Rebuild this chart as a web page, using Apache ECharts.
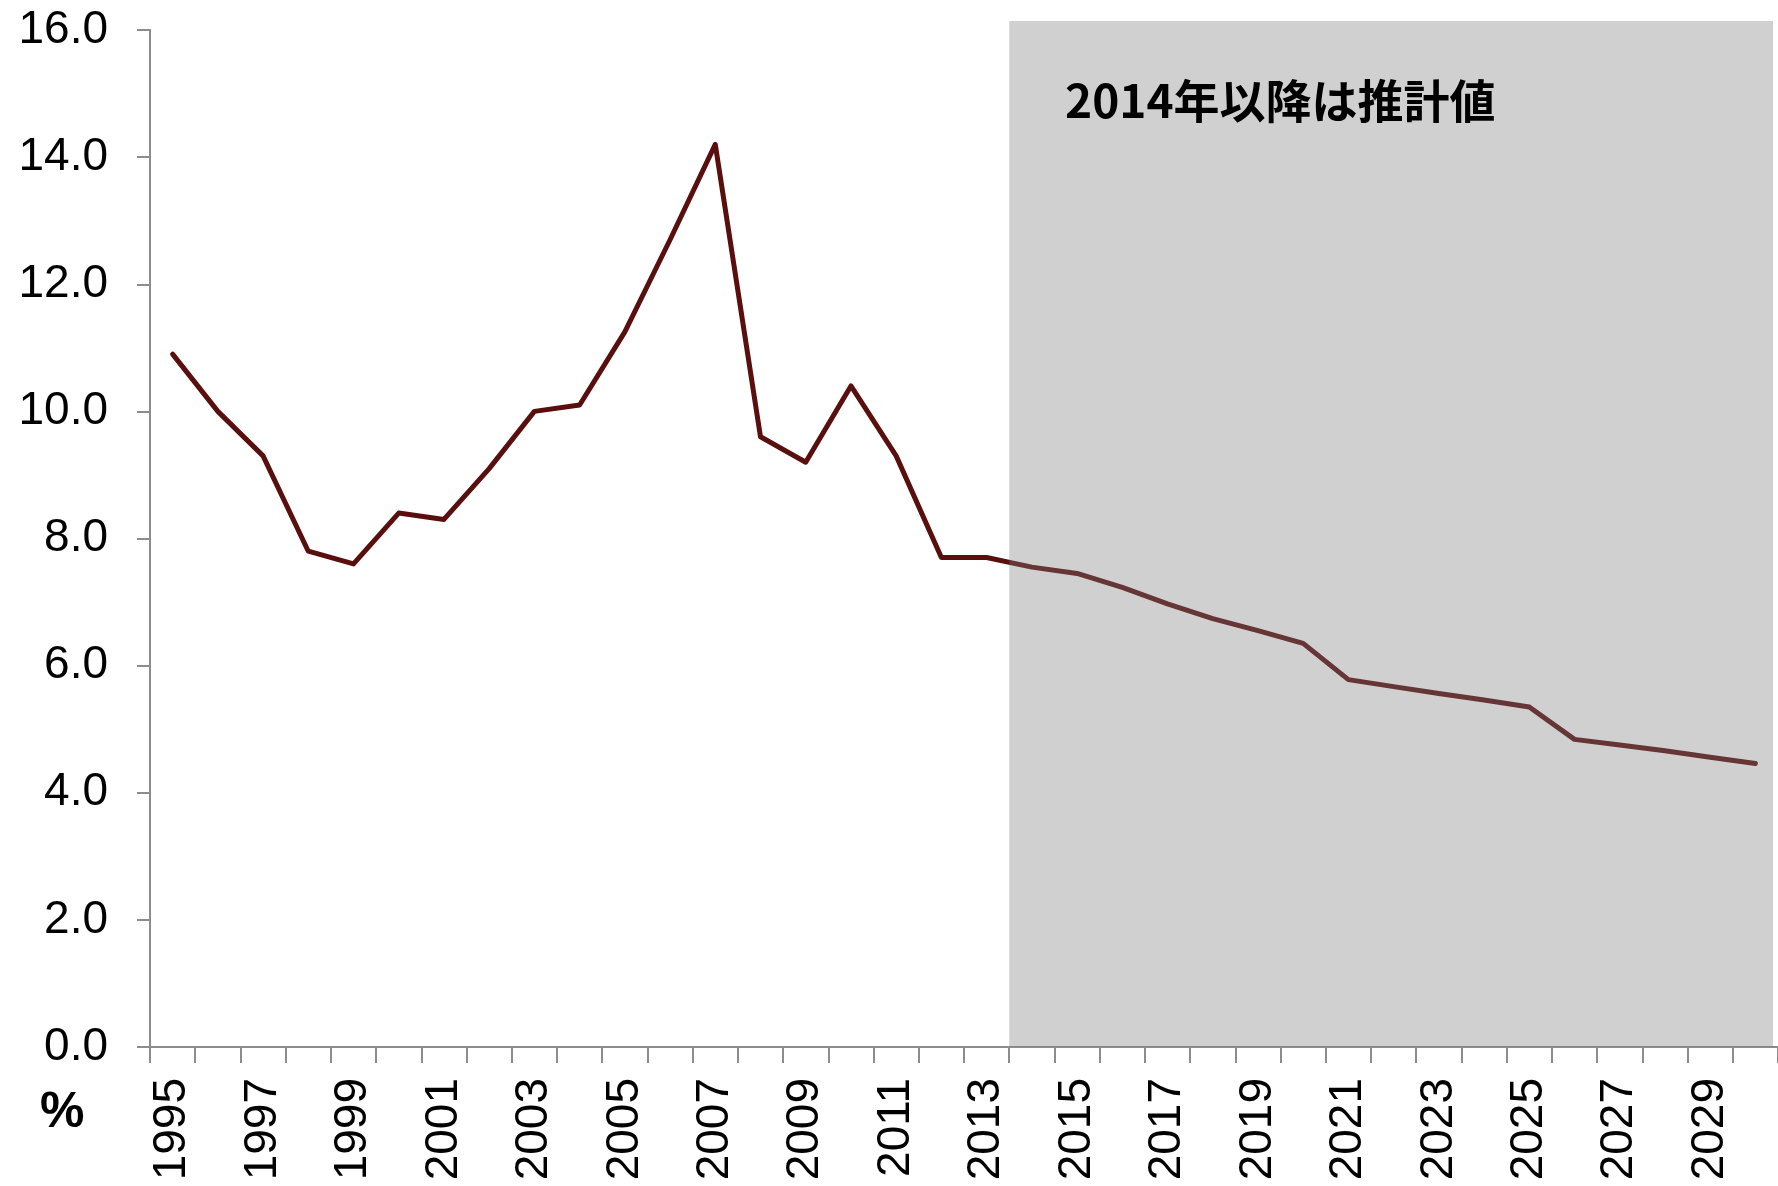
<!DOCTYPE html>
<html><head><meta charset="utf-8">
<script src="https://cdn.jsdelivr.net/npm/echarts@6/dist/echarts.min.js"></script>
<style>html,body{margin:0;padding:0;background:#fff}#c{width:1778px;height:1186px}</style>
</head><body><div id="c"></div>
<script>
const years = ['1995','1996','1997','1998','1999','2000','2001','2002','2003','2004',
  '2005','2006','2007','2008','2009','2010','2011','2012','2013','2014',
  '2015','2016','2017','2018','2019','2020','2021','2022','2023','2024',
  '2025','2026','2027','2028','2029','2030'];
const values = [10.9, 10.0, 9.3, 7.8, 7.6, 8.4, 8.3, 9.1, 10.0, 10.1,
  11.25, 12.7, 14.2, 9.6, 9.2, 10.4, 9.3, 7.7, 7.7, 7.55,
  7.45, 7.23, 6.97, 6.74, 6.55, 6.35, 5.78, 5.67, 5.56, 5.46,
  5.35, 4.84, 4.75, 4.66, 4.56, 4.46];
const forecastStartYear = '2014';
const annotationText = '2014年以降は推計値';
const unitText = '%';
const yMin = 0, yMax = 16, yStep = 2;

const chart = echarts.init(document.getElementById('c'), null, {renderer: 'canvas'});
const fStart = years.indexOf(forecastStartYear);
const axisGrey = '#8c8c8c';
const numFont = "'Liberation Sans', Arial, sans-serif";

chart.setOption({
  animation: false,
  backgroundColor: '#ffffff',
  grid: {left: 150, top: 30, right: -5, bottom: 139, containLabel: false},
  xAxis: [{
    type: 'category',
    data: years,
    boundaryGap: true,
    axisLine: {show: true, lineStyle: {color: axisGrey, width: 2}},
    axisTick: {show: true, interval: 0, length: 16, lineStyle: {color: axisGrey, width: 2}},
    axisLabel: {interval: 1, rotate: 90, margin: 31, fontSize: 46, color: '#000', fontFamily: numFont},
    splitLine: {show: false}
  }, {
    type: 'value', min: 0, max: years.length, show: false
  }],
  yAxis: {
    type: 'value',
    min: yMin, max: yMax, interval: yStep,
    axisLine: {show: true, lineStyle: {color: axisGrey, width: 2}},
    axisTick: {show: true, length: 13, lineStyle: {color: axisGrey, width: 2}},
    axisLabel: {margin: 42, fontSize: 46, color: '#000', fontFamily: numFont,
      formatter: v => v.toFixed(1)},
    splitLine: {show: false}
  },
  series: [{
    type: 'line',
    data: values,
    symbol: 'none',
    z: 2,
    lineStyle: {color: '#5a0f0f', width: 5, join: 'round', cap: 'round'}
  }]
});

// forecast shading: x extent from the library's own scale (hidden value axis of band indices)
const x0 = chart.convertToPixel({xAxisIndex: 1}, fStart);
const yBottom = chart.convertToPixel({yAxisIndex: 0}, yMin);
const shadeTop = 21, shadeRight = 1773;

chart.setOption({
  graphic: [{
    type: 'rect', z: 10, silent: true,
    shape: {x: x0, y: shadeTop, width: shadeRight - x0, height: yBottom - shadeTop},
    style: {fill: 'rgba(125,125,125,0.36)'}
  }, {
    type: 'text', left: 1065, top: 78, z: 20,
    style: {text: annotationText, font: "bold 46px 'Noto Sans CJK JP', sans-serif", fill: '#000'}
  }, {
    type: 'text', left: 40, top: 1088, z: 20,
    style: {text: unitText, font: "bold 50px 'Liberation Sans', Arial, sans-serif", fill: '#000'}
  }]
});
</script></body></html>
